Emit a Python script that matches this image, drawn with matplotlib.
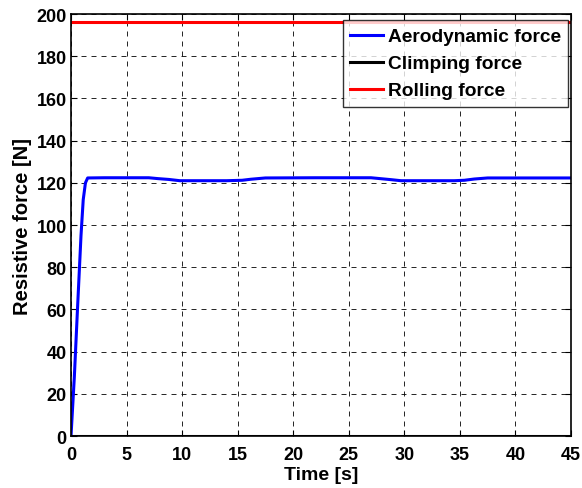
import matplotlib
matplotlib.use("Agg")
import matplotlib.pyplot as plt
import numpy as np

plt.rcParams['font.family'] = ['Liberation Sans', 'DejaVu Sans']
plt.rcParams['font.weight'] = 'bold'

# Aerodynamic force over the run (s, N)
aero_t = [0.0, 0.3, 0.6, 0.9, 1.1, 1.3, 1.5, 3.0, 7.0, 7.8, 8.8, 9.8, 12.0, 14.0, 15.4, 16.2, 17.5, 22.0, 27.0, 27.8, 28.8, 29.7, 32.0, 34.5, 35.4, 36.3, 37.5, 42.0, 45.0]
aero_f = [0.0, 28.0, 62.0, 95.0, 112.0, 120.0, 122.3, 122.4, 122.4, 122.0, 121.6, 121.0, 121.0, 121.0, 121.2, 121.7, 122.3, 122.4, 122.4, 122.0, 121.5, 121.0, 121.0, 121.0, 121.2, 121.8, 122.3, 122.3, 122.3]

# Climbing force (flat road) and rolling resistance
climb_t = [0.0, 45.0]
climb_f = [0.0, 0.0]
roll_t = [0.0, 45.0]
roll_f = [196.0, 196.0]

fig = plt.figure(figsize=(5.82, 4.89), dpi=100)
ax = fig.add_axes([0.122, 0.1063, 0.859, 0.863])

ax.plot(aero_t, aero_f, color='#0000ff', lw=2.2, label='Aerodynamic force')
ax.plot(climb_t, climb_f, color='black', lw=2.2, label='Climping force')
ax.plot(roll_t, roll_f, color='#ff0000', lw=2.2, label='Rolling force')

ax.set_xlim(0, 45)
ax.set_ylim(0, 200)
ax.set_xticks(np.arange(0, 46, 5))
ax.set_yticks(np.arange(0, 201, 20))
ax.grid(True, color='black', linestyle=(0, (6, 6)), lw=0.6)
ax.tick_params(direction='in', top=True, right=True, labelsize=13, length=4, width=0.8, pad=3)
ax.tick_params(axis='x', pad=7)
for lab in ax.get_xticklabels() + ax.get_yticklabels():
    lab.set_fontweight('bold')
for s in ax.spines.values():
    s.set_linewidth(1.2)

ax.set_xlabel('Time [s]', fontsize=14, fontweight='bold', labelpad=2)
ax.set_ylabel('Resistive force [N]', fontsize=14.5, fontweight='bold', labelpad=3)

leg = ax.legend(loc='upper right', bbox_to_anchor=(0.995, 0.985), fontsize=13.8,
                frameon=True, fancybox=False, edgecolor='black', handlelength=1.7,
                handletextpad=0.25, borderpad=0.4, labelspacing=0.5, borderaxespad=0.0)
leg.get_frame().set_linewidth(1.0)
for t in leg.get_texts():
    t.set_fontweight('bold')

fig.savefig('out.png', dpi=100)
